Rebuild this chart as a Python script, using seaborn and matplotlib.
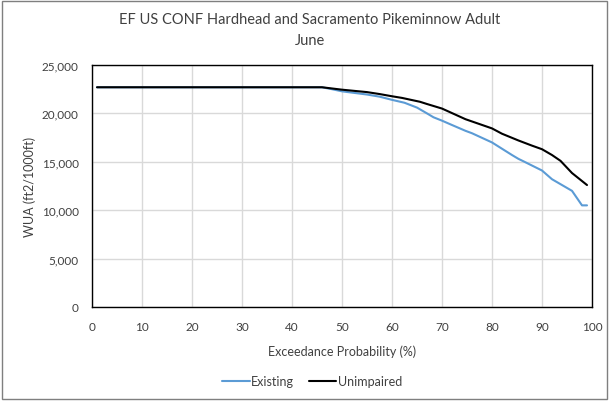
import matplotlib
matplotlib.use("Agg")
import matplotlib.pyplot as plt
import seaborn as sns
import pandas as pd
from matplotlib.ticker import FuncFormatter, MultipleLocator
from matplotlib.patches import Rectangle

existing_x = [1, 46, 48, 50, 55, 57.5, 60, 62.5, 65, 67, 68.3, 70, 72, 74.7, 76, 80, 84, 85.3, 86.3, 90, 92, 96, 98, 99]
existing_y = [22700, 22700, 22500, 22280, 21950, 21730, 21400, 21100, 20600, 20000, 19600, 19250, 18800, 18200,
              17950, 17000, 15700, 15300, 15050, 14100, 13200, 12000, 10500, 10500]
unimpaired_x = [1, 46, 50, 55, 57.5, 60, 62, 65.6, 67, 70, 74.7, 80, 82, 85.3, 88, 90, 92, 93.7, 96, 99]
unimpaired_y = [22700, 22700, 22450, 22200, 22000, 21770, 21600, 21200, 20970, 20500, 19400, 18450, 17900,
                17200, 16670, 16300, 15700, 15100, 13840, 12600]

df = pd.concat([
    pd.DataFrame({"x": existing_x, "y": existing_y, "series": "Existing"}),
    pd.DataFrame({"x": unimpaired_x, "y": unimpaired_y, "series": "Unimpaired"}),
])

sns.set_theme(style="white")
plt.rcParams['font.family'] = ['Lato', 'DejaVu Sans']

fig = plt.figure(figsize=(6.09, 4.02), dpi=100)
ax = fig.add_axes([92/609, 94/402, 500/609, 242/402])

sns.lineplot(data=df, x="x", y="y", hue="series", palette={"Existing": "#5B9BD5", "Unimpaired": "#000000"},
             linewidth=1.5, ax=ax, sort=False, estimator=None)

ax.set_xlim(0, 100)
ax.set_ylim(0, 25000)
ax.xaxis.set_major_locator(MultipleLocator(10))
ax.yaxis.set_major_locator(MultipleLocator(5000))
ax.yaxis.set_major_formatter(FuncFormatter(lambda v, p: f"{int(v):,}"))
ax.grid(True, color="#d9d9d9", linewidth=1)
ax.set_axisbelow(True)
for s in ax.spines.values():
    s.set_color("black")
    s.set_linewidth(1)
ax.tick_params(axis="both", labelsize=8.5, colors="#404040", length=0)
ax.tick_params(axis="x", pad=10)
ax.tick_params(axis="y", pad=9.5)
ax.set_xlabel("Exceedance Probability (%)", fontsize=9, color="#404040", labelpad=9)
ax.set_ylabel("WUA (ft2/1000ft)", fontsize=9, color="#404040", labelpad=4)

cx = 310 / 609
fig.text(cx, 1 - 20/402, "EF US CONF Hardhead and Sacramento Pikeminnow Adult", ha="center", va="center",
         fontsize=10.5, color="#404040")
fig.text(cx, 1 - 41/402, "June", ha="center", va="center", fontsize=10.5, color="#404040")

leg = fig.legend(*ax.get_legend_handles_labels(), loc="center", bbox_to_anchor=(312/609, 1 - 382/402), ncol=2,
                 frameon=False, fontsize=9, handlelength=2.2, handletextpad=0.1, columnspacing=1.2)
ax.get_legend().remove()
for t in leg.get_texts():
    t.set_color("#404040")

fig.patches.append(Rectangle((0.003, 0.004), 0.994, 0.992, transform=fig.transFigure, fill=False,
                             edgecolor="#7f7f7f", linewidth=1))

fig.savefig("out.png", dpi=100)
